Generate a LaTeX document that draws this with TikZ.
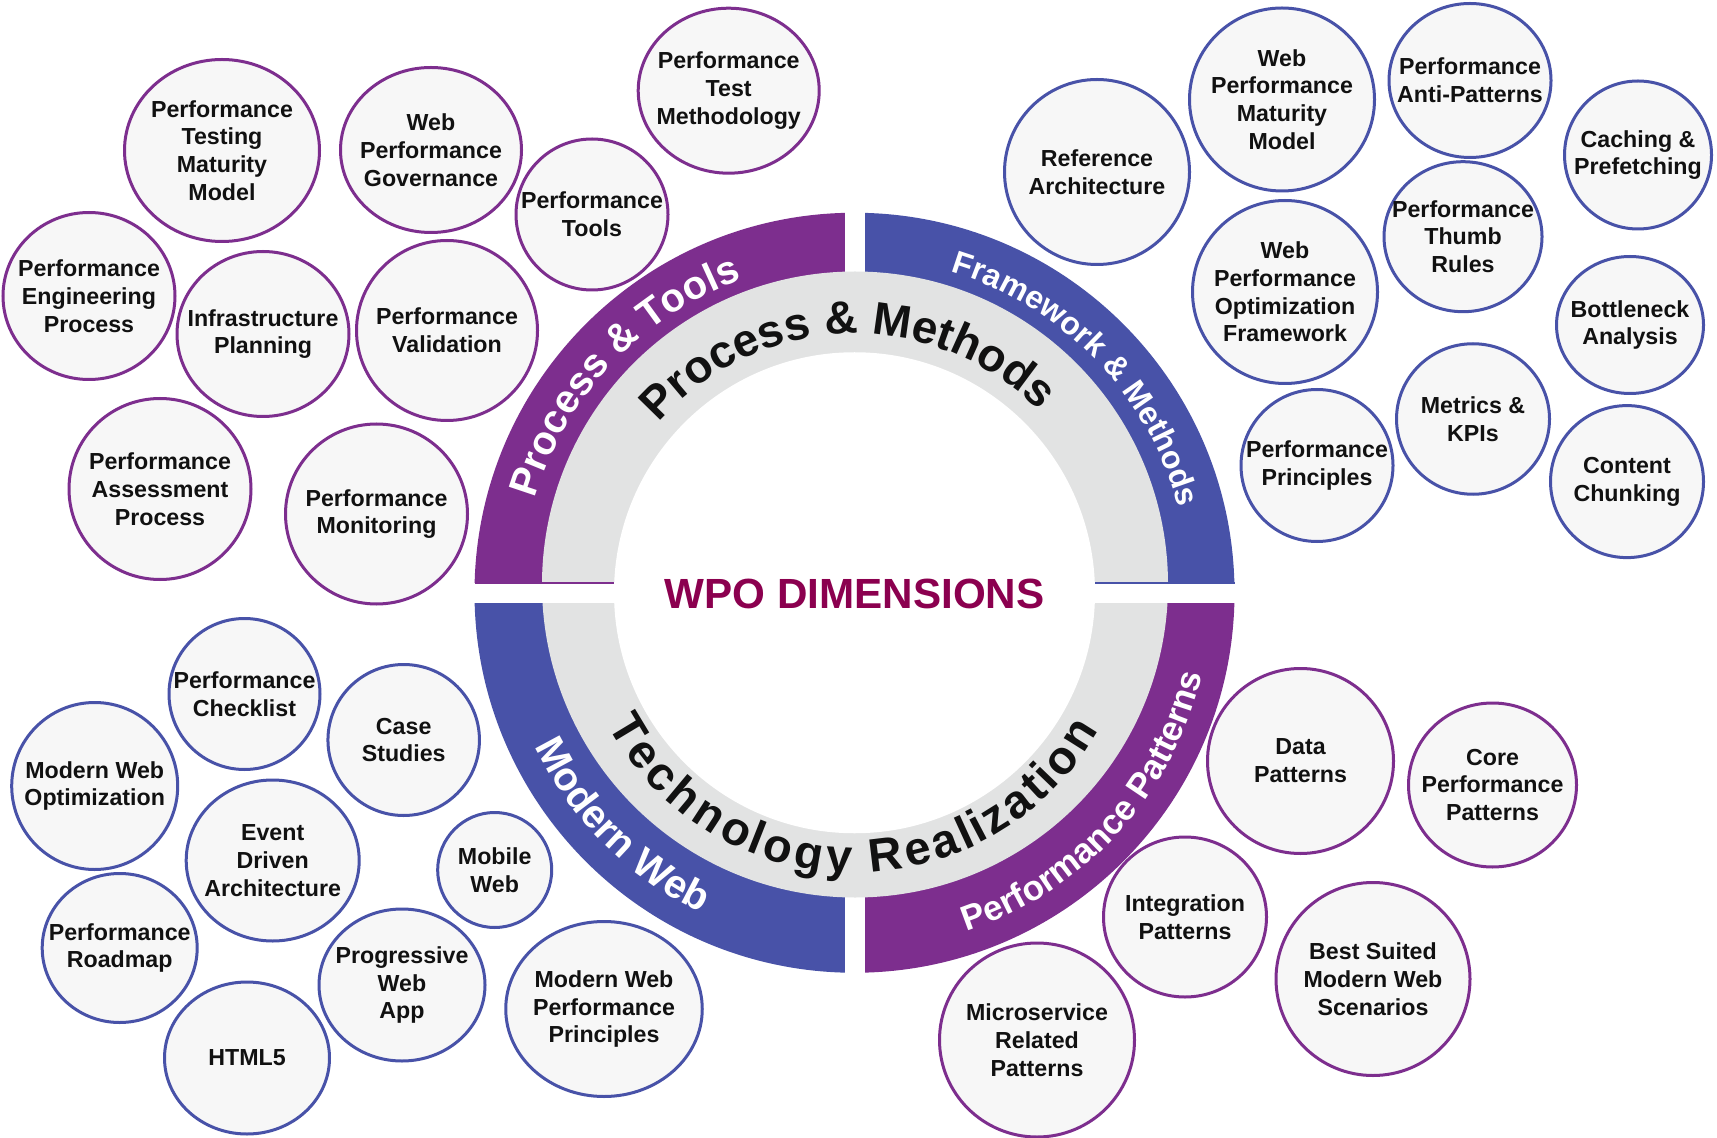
\documentclass[tikz,border=0pt]{standalone}
\usepackage{fontspec}
\setmainfont{Liberation Sans}
\usetikzlibrary{shapes.geometric,decorations.text}
\definecolor{purp}{RGB}{125,46,142}
\definecolor{blu}{RGB}{72,82,168}
\definecolor{ringgray}{RGB}{226,227,227}
\definecolor{bubfill}{RGB}{247,247,247}
\definecolor{wpocol}{RGB}{139,0,79}
\definecolor{txtcol}{RGB}{17,17,17}
\newcommand\bubfont{\fontsize{11.6pt}{13.9pt}\selectfont\bfseries}
\tikzset{
  bubble/.style={ellipse, draw=#1, line width=1.5pt, fill=bubfill, inner sep=0pt, outer sep=0pt},
  bubtext/.style={align=center, font=\bubfont, text=txtcol, inner sep=0pt},
}
% name, x, y, w, h, colour, text
\newcommand\bubnode[7]{%
  \node[bubble=#6, minimum width={(#4-3)*0.5pt}, minimum height={(#5-3)*0.5pt}] (#1) at (#2,-#3) {};
  \node[bubtext] (#1-t) at (#1.center) {#7};
}
\begin{document}
\begin{tikzpicture}[x=0.5pt,y=0.5pt]
\fill[white] (0,0) rectangle (1717,-1138);
\useasboundingbox (0,0) rectangle (1717,-1138);

% ---------- central ring ----------
\begin{scope}[shift={(854.5,-592.75)}]
  \fill[purp] (0,0) -- (90:380) arc[start angle=90, end angle=180, radius=380] -- cycle;
  \fill[blu]  (0,0) -- (0:380) arc[start angle=0, end angle=90, radius=380] -- cycle;
  \fill[blu]  (0,0) -- (180:380) arc[start angle=180, end angle=270, radius=380] -- cycle;
  \fill[purp] (0,0) -- (270:380) arc[start angle=270, end angle=360, radius=380] -- cycle;
  \fill[white] (-9.5,390) rectangle (10.5,-390);
  \fill[ringgray] (0.5,8.25) circle[radius=313];
  \fill[white] (0,0) circle[radius=240.5];
  \fill[white] (-390,9.75) rectangle (390,-9.75);
  \draw[purp, line width=0.6pt] (-380,9.75) -- (-240.5,9.75);
  \draw[blu, line width=0.6pt] (240.5,9.75) -- (380,9.75);

  \path[decorate, decoration={text along path, text align=center,
      text={|\fontsize{20pt}{24pt}\selectfont\bfseries\color{white}|Process {\&} Tools}}]
    (176.7:333) arc[start angle=176.7, end angle=96.7, radius=333];
  \path[decorate, decoration={text along path, text align=center,
      text={|\fontsize{16pt}{19pt}\selectfont\bfseries\color{white}|Framework {\&} Methods}}]
    (84:335) arc[start angle=84, end angle=4, radius=335];
  \path[decorate, decoration={text along path, text align=center,
      text={|\fontsize{20pt}{24pt}\selectfont\bfseries\color{white}|Modern Web}}]
    (185:355) arc[start angle=185, end angle=265, radius=355];
  \path[decorate, decoration={text along path, text align=center,
      text={|\fontsize{17.5pt}{21pt}\selectfont\bfseries\color{white}|Performance Patterns}}]
    (277.5:357) arc[start angle=277.5, end angle=357.5, radius=357];
  \path[decorate, decoration={text along path, text align=center,
      text={|\fontsize{23pt}{27pt}\selectfont\bfseries\color{txtcol}|Process {\&} Methods}}]
    (161.75:259) arc[start angle=161.75, end angle=21.75, radius=259];
  \path[decorate, decoration={text along path, text align=center, raise=-18.15pt,
      text={|\fontsize{23.5pt}{28pt}\selectfont\bfseries\color{txtcol}|Technology Realization}}]
    (189.4:243.7) arc[start angle=189.4, end angle=349.4, radius=243.7];
\end{scope}

\node[font=\fontsize{21.1pt}{25pt}\selectfont\bfseries, text=wpocol, inner sep=0pt] (wpo) at (854.7,-593.6) {WPO DIMENSIONS};

% ---------- Process & Tools ----------
\bubnode{ptmm}{222}{150.5}{198}{185}{purp}{Performance\\Testing\\Maturity\\Model}
\bubnode{wpg}{431}{150}{184}{168}{purp}{Web\\Performance\\Governance}
\bubnode{pep}{89}{296}{175}{170}{purp}{Performance\\Engineering\\Process}
\bubnode{ip}{263}{334}{175}{168}{purp}{Infrastructure\\Planning}
\bubnode{pv}{447}{330.5}{184}{183}{purp}{Performance\\Validation}
\bubnode{pap}{160}{489}{185}{184}{purp}{Performance\\Assessment\\Process}
\bubnode{pmon}{376.5}{514}{185}{183}{purp}{Performance\\Monitoring}
\bubnode{ptools}{592}{214.5}{155}{154}{purp}{Performance\\Tools}
\bubnode{ptm}{728.7}{90.7}{184}{168}{purp}{Performance\\Test\\Methodology}

% ---------- Framework & Methods ----------
\bubnode{ra}{1097}{172}{188}{188}{blu}{Reference\\Architecture}
\bubnode{wpmm}{1282}{99.5}{188}{186}{blu}{Web\\Performance\\Maturity\\Model}
\bubnode{apat}{1470}{80.5}{165}{157}{blu}{Performance\\Anti-Patterns}
\bubnode{cpf}{1638}{155}{150}{151}{blu}{Caching \&\\Prefetching}
\bubnode{wpof}{1285}{292}{188}{186}{blu}{Web\\Performance\\Optimization\\Framework}
\bubnode{ptr}{1463}{236.7}{161}{153}{blu}{Performance\\Thumb\\Rules}
\bubnode{ba}{1630}{325}{150}{140}{blu}{Bottleneck\\Analysis}
\bubnode{mk}{1473}{419}{156}{153.5}{blu}{Metrics \&\\KPIs}
\bubnode{pp}{1317}{465.5}{155}{155}{blu}{Performance\\Principles}
\bubnode{cc}{1627}{481.6}{156}{155}{blu}{Content\\Chunking}

% ---------- Modern Web ----------
\bubnode{pc}{244.5}{694}{154}{154}{blu}{Performance\\Checklist}
\bubnode{cs}{403.7}{740}{154.5}{154}{blu}{Case\\Studies}
\bubnode{mwo}{94.7}{786}{169}{170}{blu}{Modern Web\\Optimization}
\bubnode{eda}{272.7}{860.5}{176}{164}{blu}{Event\\Driven\\Architecture}
\bubnode{mw}{494.7}{870}{117}{118}{blu}{Mobile\\Web}
\bubnode{pr}{119.7}{948}{158}{152}{blu}{Performance\\Roadmap}
\bubnode{html}{247}{1058}{168}{155}{blu}{HTML5}
\bubnode{pwa}{402}{985}{169}{155}{blu}{Progressive\\Web\\App}
\bubnode{mwpp}{604}{1009}{199.5}{178}{blu}{Modern Web\\Performance\\Principles}

% ---------- Performance Patterns ----------
\bubnode{msrp}{1037}{1040}{198}{197}{purp}{Microservice\\Related\\Patterns}
\bubnode{intp}{1185}{917}{166}{163}{purp}{Integration\\Patterns}
\bubnode{dp}{1300.5}{761}{189}{188}{purp}{Data\\Patterns}
\bubnode{cpp}{1492.5}{785}{171}{167}{purp}{Core\\Performance\\Patterns}
\bubnode{bsmw}{1373}{979}{197}{196}{purp}{Best Suited\\Modern Web\\Scenarios}
\end{tikzpicture}
\end{document}
